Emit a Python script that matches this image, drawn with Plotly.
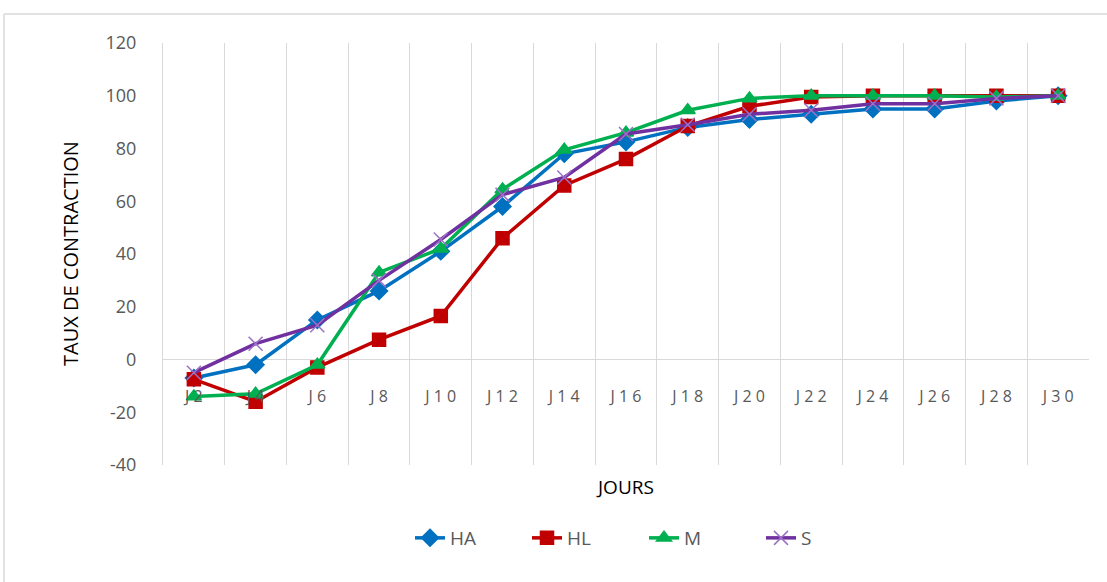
import plotly.graph_objects as go

jours = ["J2", "J4", "J6", "J8", "J10", "J12", "J14", "J16", "J18", "J20", "J22", "J24", "J26", "J28", "J30"]
jour_labels = ["J 2", "J 4", "J 6", "J 8", "J 1 0", "J 1 2", "J 1 4", "J 1 6", "J 1 8", "J 2 0", "J 2 2", "J 2 4", "J 2 6", "J 2 8", "J 3 0"]
y_ticks = [-40, -20, 0, 20, 40, 60, 80, 100, 120]
y_labels = ["-40", "-20", "0", "20", "40", "60", "80", "100", "120"]
ha = [-7, -2, 15, 26, 41, 58, 78, 82.5, 88, 91, 93, 95, 95, 98, 100]
hl = [-7.5, -16, -3, 7.5, 16.5, 46, 66, 76, 88.5, 96, 99.5, 100, 100, 100, 100]
m = [-14, -13, -2, 33, 42, 64.5, 79.5, 86, 94.5, 99, 100, 100, 100, 99.5, 100]
s = [-5, 6, 13, 30, 45.5, 62.5, 69, 85.5, 89, 93, 94.5, 97, 97, 99, 100]

series = [
    ("HA", ha, "#0070C0", "diamond", 13),
    ("HL", hl, "#C00000", "square", 13),
    ("M", m, "#00B050", "triangle-up", 13),
    ("S", s, "#7030A0", "x-thin", 14),
]

fig = go.Figure()
for name, vals, col, sym, sz in series:
    fig.add_trace(go.Scatter(
        x=jours, y=vals, name=name, mode="lines+markers",
        line=dict(color=col, width=3.5),
        marker=dict(symbol=sym, size=sz, color=col,
                    line=dict(color="#9B72C8" if name == "S" else col, width=1.5)),
    ))

L, T, W, H = 163, 43, 926, 422

fig.update_layout(
    width=1107, height=582,
    margin=dict(l=L, r=1107 - L - W, t=T, b=582 - T - H),
    paper_bgcolor="white", plot_bgcolor="white",
    font=dict(family="Open Sans, Liberation Sans, sans-serif", color="#595959"),
    showlegend=True,
    legend=dict(orientation="h", x=(410 - L) / W, xanchor="left", y=(T + H - 538) / H, yanchor="middle",
                font=dict(size=19, color="#595959"), entrywidth=72, entrywidthmode="pixels"),
    xaxis=dict(
        type="category", categoryorder="array", categoryarray=jours,
        tickmode="array", tickvals=jours, ticktext=jour_labels,
        tickson="boundaries", ticks="", showgrid=True, gridcolor="#D9D9D9", gridwidth=1,
        showline=False, anchor="free", position=0.25,
        tickfont=dict(size=16, color="#595959"), ticklabelstandoff=25,
        range=[-0.5, 14.5],
    ),
    yaxis=dict(
        range=[-40, 120], tickmode="array", tickvals=y_ticks, ticktext=y_labels,
        showgrid=False, zeroline=True, zerolinecolor="#D9D9D9", zerolinewidth=1,
        showline=True, linecolor="#D9D9D9", linewidth=1, ticks="",
        tickfont=dict(size=18, color="#595959"), ticklabelstandoff=22,
    ),
    annotations=[
        dict(text="JOURS", xref="paper", yref="paper", x=(625 - L) / W, y=(T + H - 487) / H,
             showarrow=False, font=dict(size=19, color="#000000"), xanchor="center", yanchor="middle"),
        dict(text="TAUX DE CONTRACTION", xref="paper", yref="paper", x=(70 - L) / W, y=(T + H - 254) / H,
             showarrow=False, textangle=-90, font=dict(size=20, color="#000000"),
             xanchor="center", yanchor="middle"),
    ],
    shapes=[
        dict(type="line", xref="paper", yref="paper", x0=(4 - L) / W, x1=1.05, y0=(T + H - 14) / H, y1=(T + H - 14) / H,
             line=dict(color="#D9D9D9", width=1.5)),
        dict(type="line", xref="paper", yref="paper", x0=(4 - L) / W, x1=(4 - L) / W, y0=(T + H - 14) / H, y1=-0.35,
             line=dict(color="#D9D9D9", width=1.5)),
    ],
)

fig.write_html("out.html", config={"displayModeBar": False},
               post_script="document.body.style.margin='0';document.body.style.padding='0';")
